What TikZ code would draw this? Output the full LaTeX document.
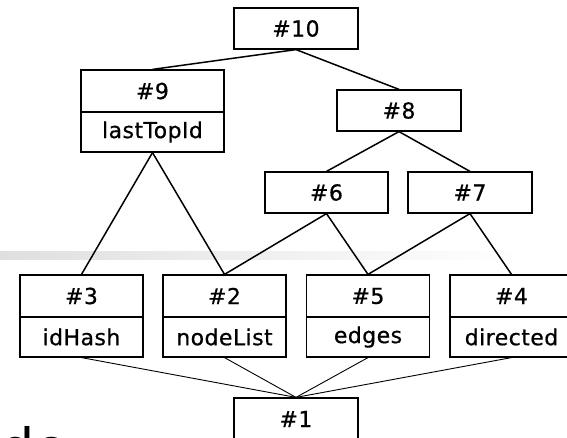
\documentclass[tikz,border=0pt]{standalone}
\usepackage{fontspec}
\newfontfamily\boxfont[LetterSpace=2,FakeBold=0.6]{DejaVu Sans}
\newfontfamily\titlefont{DejaVu Sans}
\begin{document}
\begin{tikzpicture}[x=1pt,y=-1pt,
  box/.style={draw, line width=1.2pt, fill=white, inner sep=0pt,
    minimum width=123pt, minimum height=41pt,
    font=\boxfont\fontsize{22}{26}\selectfont},
  widebox/.style={box, minimum width=143pt},
  link/.style={line width=1.5pt},
  thinlink/.style={line width=0.9pt}]
\useasboundingbox (0,0) rectangle (567,438);
\begin{scope}
\clip (0,0) rectangle (567,438);
\shade[left color=gray!25, right color=white] (0,252) rectangle (520,259);
% top levels
\node[box, minimum width=124pt] (n10) at (296,28.5) {\#10};
\node[widebox, minimum height=42pt] (n9) at (152.5,91) {\#9};
\node[widebox, minimum height=40pt] (n9b) at (152.5,132) {lastTopId};
\node[box, minimum width=124pt] (n8) at (399,110.5) {\#8};
\node[box] (n6) at (326.5,192.5) {\#6};
\node[box, minimum width=124pt] (n7) at (470,192.5) {\#7};
% bottom row
\node[box, minimum height=42pt] (n3) at (81.5,296) {\#3};
\node[box, minimum height=40pt] (n3b) at (81.5,337) {idHash};
\node[box, minimum height=42pt] (n2) at (224.5,296) {\#2};
\node[box, minimum height=40pt] (n2b) at (224.5,337) {nodeList};
\node[box, minimum height=42pt] (n5) at (368,296) {\#5};
\node[box, minimum height=40pt] (n5b) at (368,337) {edges};
\node[box, minimum height=42pt] (n4) at (511.5,296) {\#4};
\node[box, minimum height=40pt] (n4b) at (511.5,337) {directed};
\node[box, minimum width=124pt, minimum height=42pt] (n1) at (296,419) {\#1};
% fragment of text at bottom left
\node[anchor=base west, inner sep=0pt, font=\titlefont\fontsize{54}{60}\selectfont] (title) at (0,467) {de};
% connectors
\draw[link] (n10.south) -- (n9.north);
\draw[link] (n10.south) -- (n8.north);
\draw[link] (n8.south) -- (n6.north);
\draw[link] (n8.south) -- (n7.north);
\draw[link] (n9b.south) -- (n3.north);
\draw[link] (n9b.south) -- (n2.north);
\draw[link] (n6.south) -- (n2.north);
\draw[link] (n6.south) -- (n5.north);
\draw[link] (n7.south) -- (n5.north);
\draw[link] (n7.south) -- (n4.north);
\draw[thinlink] (n3b.south) -- (n1.north);
\draw[thinlink] (n2b.south) -- (n1.north);
\draw[thinlink] (n5b.south) -- (n1.north);
\draw[thinlink] (n4b.south) -- (n1.north);
\end{scope}
\end{tikzpicture}
\end{document}
